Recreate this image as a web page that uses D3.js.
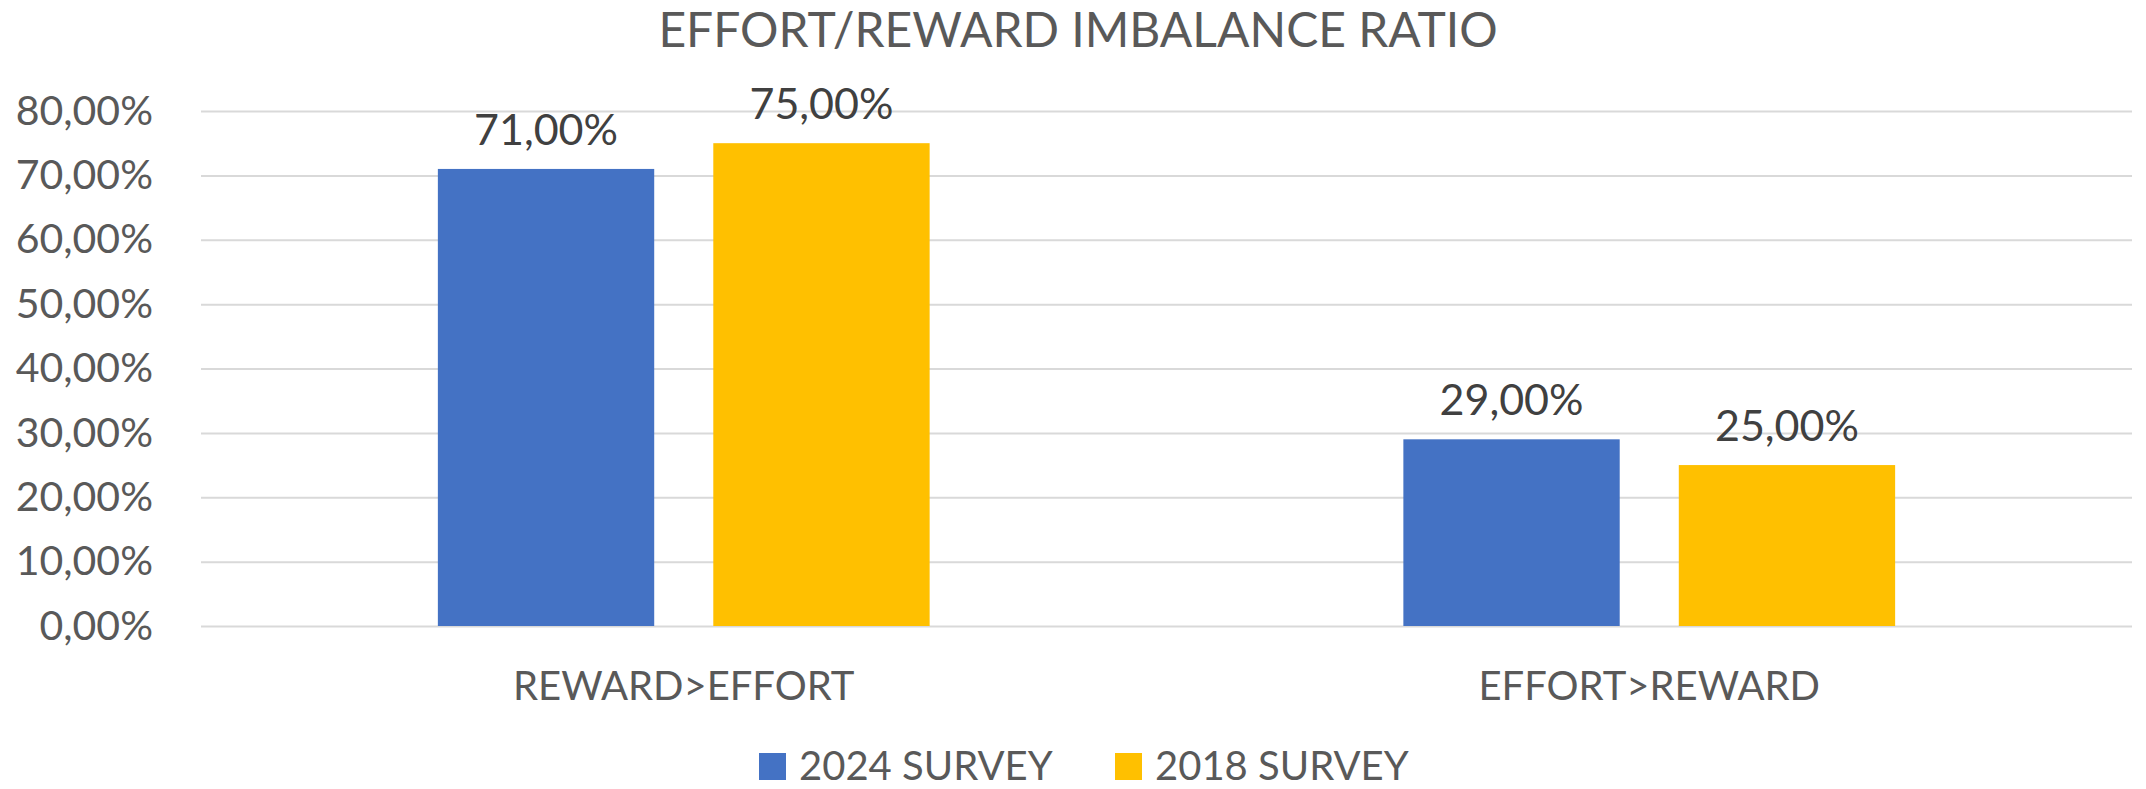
<!DOCTYPE html>
<html>
<head>
<meta charset="utf-8">
<script src="https://cdn.jsdelivr.net/npm/d3@7"></script>
<style>
  body { margin: 0; background: #fff; }
  svg { display: block; font-family: Lato, "Open Sans", sans-serif; }
</style>
</head>
<body>
<script>
// data
var categories = ['REWARD>EFFORT', 'EFFORT>REWARD'];
var seriesNames = ['2024 SURVEY', '2018 SURVEY'];
var survey2024 = [0.71, 0.29];
var survey2018 = [0.75, 0.25];
var yTicks = [0, 0.1, 0.2, 0.3, 0.4, 0.5, 0.6, 0.7, 0.8];
var colors = ['#4472C4', '#FFC000'];

var w = 2146;
var h = 789;
var margin = {top: 111, right: 14, bottom: 163, left: 201};
var textColor = '#595959';

var locale = d3.formatLocale({decimal: ',', thousands: '.', grouping: [3], currency: ['', '€']});
var pct = locale.format('.2%');

var svg = d3.select('body')
            .append('svg')
            .attr('width', w)
            .attr('height', h);

var rows = categories.map(function(c, i) {
    return {cat: c, values: [survey2024[i], survey2018[i]]};
});

var x0 = d3.scaleBand()
           .domain(categories)
           .range([margin.left, w - margin.right])
           .padding(0);
var x1 = d3.scaleBand()
           .domain(seriesNames)
           .range([0, x0.bandwidth()])
           .paddingInner(0.2145)
           .paddingOuter(0.86);
var yScale = d3.scaleLinear()
               .domain([0, 0.8])
               .range([h - margin.bottom, margin.top]);

// title
svg.append('text')
   .attr('x', 1078)
   .attr('y', 47)
   .attr('text-anchor', 'middle')
   .attr('font-size', 48)
   .attr('fill', textColor)
   .text('EFFORT/REWARD IMBALANCE RATIO');

// y axis with gridlines
var yAxis = svg.append('g')
   .attr('transform', 'translate(' + margin.left + ',0)')
   .call(d3.axisLeft(yScale)
           .tickValues(yTicks)
           .tickFormat(pct)
           .tickSize(-(w - margin.left - margin.right))
           .tickPadding(48));
yAxis.select('.domain').remove();
yAxis.selectAll('line').attr('stroke', '#D9D9D9').attr('stroke-width', 2);
yAxis.selectAll('text')
     .attr('fill', textColor)
     .attr('font-size', 41)
     .attr('font-family', 'Lato, sans-serif');

// bars
var groups = svg.selectAll('g.cat')
   .data(rows)
   .enter()
   .append('g')
   .attr('class', 'cat')
   .attr('transform', function(d) { return 'translate(' + x0(d.cat) + ',0)'; });

groups.selectAll('rect')
   .data(function(d) { return d.values; })
   .enter()
   .append('rect')
   .attr('x', function(d, i) { return x1(seriesNames[i]); })
   .attr('y', function(d) { return yScale(d); })
   .attr('width', x1.bandwidth())
   .attr('height', function(d) { return yScale(0) - yScale(d); })
   .attr('fill', function(d, i) { return colors[i]; });

groups.selectAll('text')
   .data(function(d) { return d.values; })
   .enter()
   .append('text')
   .attr('x', function(d, i) { return x1(seriesNames[i]) + x1.bandwidth() / 2; })
   .attr('y', function(d) { return yScale(d) - 24; })
   .attr('text-anchor', 'middle')
   .attr('font-size', 43)
   .attr('fill', '#404040')
   .text(pct);

// category axis
var xAxis = svg.append('g')
   .attr('transform', 'translate(0,' + yScale(0) + ')')
   .call(d3.axisBottom(x0).tickSize(0).tickPadding(46));
xAxis.select('.domain').remove();
xAxis.selectAll('text')
     .attr('fill', textColor)
     .attr('font-size', 40)
     .attr('font-family', 'Lato, sans-serif');

// legend
var legendX = [759, 1115];
var legend = svg.selectAll('g.legend')
   .data(seriesNames)
   .enter()
   .append('g')
   .attr('class', 'legend')
   .attr('transform', function(d, i) { return 'translate(' + legendX[i] + ',766)'; });
legend.append('rect')
   .attr('x', 0)
   .attr('y', -13)
   .attr('width', 27)
   .attr('height', 27)
   .attr('fill', function(d, i) { return colors[i]; });
legend.append('text')
   .attr('x', 40)
   .attr('y', 0)
   .attr('dy', '0.36em')
   .attr('font-size', 40)
   .attr('fill', textColor)
   .text(function(d) { return d; });
</script>
</body>
</html>
